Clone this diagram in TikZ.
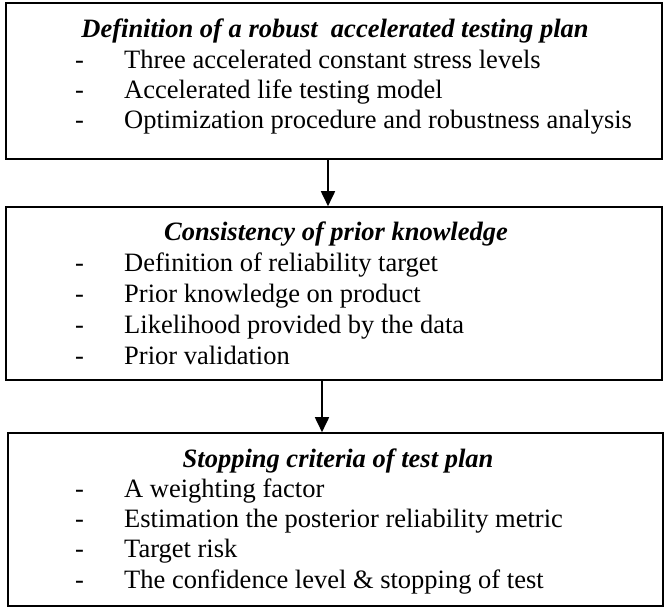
\documentclass[tikz,border=0pt]{standalone}
\usepackage{fontspec}
\setmainfont{Liberation Serif}
\usetikzlibrary{arrows.meta}
\begin{document}
\begin{tikzpicture}[x=1pt,y=-1pt,
  box/.style={draw=black, line width=1.6pt, rectangle, inner sep=0pt},
  ttl/.style={anchor=base, inner sep=0pt, font=\fontsize{26.5}{30}\selectfont\bfseries\itshape},
  itm/.style={anchor=base west, inner sep=0pt, font=\fontsize{26.5}{30}\selectfont},
  arr/.style={line width=1.8pt, -{Triangle[length=15pt,width=14pt]}}]
\useasboundingbox (0,0) rectangle (664,608);
% boxes
\node[box, minimum width=656pt, minimum height=156pt] (b1) at (334,81) {};
\node[box, minimum width=656pt, minimum height=173pt] (b2) at (334,293.5) {};
\node[box, minimum width=655pt, minimum height=173pt] (b3) at (335.5,519.5) {};
% box 1 text
\node[ttl] (t1) at (335,37) {Definition of a robust\ \ accelerated testing plan};
\node[itm] (d11) at (75,68) {-};
\node[itm] (i11) at (124,68) {Three accelerated constant stress levels};
\node[itm] (d12) at (75,98) {-};
\node[itm] (i12) at (124,98) {Accelerated life testing model};
\node[itm] (d13) at (75,128) {-};
\node[itm] (i13) at (124,128) {Optimization procedure and robustness analysis};
% box 2 text
\node[ttl] (t2) at (336,240) {Consistency of prior knowledge};
\node[itm] (d21) at (75,271) {-};
\node[itm] (i21) at (124,271) {Definition of reliability target};
\node[itm] (d22) at (75,302) {-};
\node[itm] (i22) at (124,302) {Prior knowledge on product};
\node[itm] (d23) at (75,333) {-};
\node[itm] (i23) at (124,333) {Likelihood provided by the data};
\node[itm] (d24) at (75,364) {-};
\node[itm] (i24) at (124,364) {Prior validation};
% box 3 text
\node[ttl] (t3) at (338,467) {Stopping criteria of test plan};
\node[itm] (d31) at (75,497) {-};
\node[itm] (i31) at (124,497) {A weighting factor};
\node[itm] (d32) at (75,527) {-};
\node[itm] (i32) at (124,527) {Estimation the posterior reliability metric};
\node[itm] (d33) at (75,557) {-};
\node[itm] (i33) at (124,557) {Target risk};
\node[itm] (d34) at (75,588) {-};
\node[itm] (i34) at (124,588) {The confidence level \& stopping of test};
% arrows
\coordinate (c1) at (328,0);
\coordinate (c2) at (322,0);
\draw[arr] (b1.south -| c1) -- (b2.north -| c1);
\draw[arr] (b2.south -| c2) -- (b3.north -| c2);
\end{tikzpicture}
\end{document}
